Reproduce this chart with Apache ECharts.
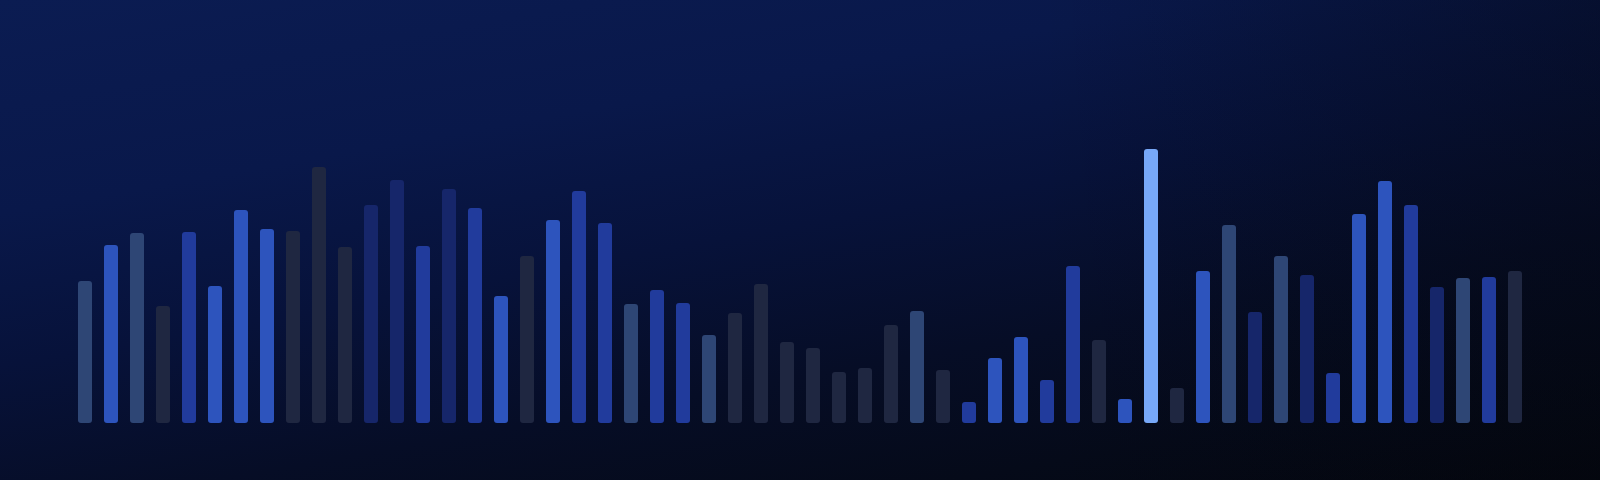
<!doctype html>
<html>
<head>
    <meta charset="UTF-8">
    <title>bars</title>
    <script src="https://cdn.jsdelivr.net/npm/echarts@6/dist/echarts.min.js"></script>
    <style>
        html, body {
            margin: 0;
            padding: 0;
            height: 100%;
        }
        #chart {
            width: 1600px;
            height: 480px;
            background:
                linear-gradient(to right, rgba(3, 5, 12, 0) 65%, rgba(3, 5, 12, 0.35) 100%),
                linear-gradient(170deg, #0b1c52 0%, #09184a 28%, #07123a 48%, #060d26 68%, #050a19 85%, #04070f 100%);
        }
    </style>
</head>
<body>
<div id="chart"></div>
<script type="text/javascript">
    // 56 根柱子, 数值为相对高度
    var categories = [];
    for (var i = 1; i <= 56; i++) { categories.push('B' + i); }

    var values = [
        142, 178, 190, 117, 191, 137, 213, 194, 192, 256,
        176, 218, 243, 177, 234, 215, 127, 167, 203, 232,
        200, 119, 133, 120, 88, 110, 139, 81, 75, 51,
        55, 98, 112, 53, 21, 65, 86, 43, 157, 83,
        24, 274, 35, 152, 198, 111, 167, 148, 50, 209,
        242, 218, 136, 145, 146, 152
    ];

    // 分组: 0 灰蓝, 1 亮蓝, 2 暗灰, 3 中蓝, 4 深蓝, 5 高亮
    var groups = [
        0, 1, 0, 2, 3, 1, 1, 1, 2, 2,
        2, 4, 4, 3, 4, 3, 1, 2, 1, 3,
        3, 0, 3, 3, 0, 2, 2, 2, 2, 2,
        2, 2, 0, 2, 3, 1, 1, 3, 3, 2,
        1, 5, 2, 1, 0, 4, 0, 4, 3, 1,
        1, 3, 4, 0, 3, 2
    ];

    var colorList = ['#2e4675', '#2d54bd', '#1f2741', '#213b9c', '#16266a', '#77a8f8'];

    var myChart = echarts.init(document.getElementById('chart'));

    var seriesData = values.map(function (v, i) {
        return {
            value: v,
            itemStyle: { color: colorList[groups[i]] }
        };
    });

    var option = {
        backgroundColor: 'transparent',
        animation: false,
        grid: {
            left: 72,
            right: 72,
            top: 123,
            bottom: 57
        },
        xAxis: {
            type: 'category',
            data: categories,
            boundaryGap: true,
            axisLine: { show: false },
            axisTick: { show: false },
            axisLabel: { show: false }
        },
        yAxis: {
            type: 'value',
            min: 0,
            max: 300,
            splitLine: { show: false },
            axisLine: { show: false },
            axisTick: { show: false },
            axisLabel: { show: false }
        },
        series: [{
            type: 'bar',
            barWidth: 14,
            itemStyle: {
                borderRadius: 3
            },
            data: seriesData
        }]
    };
    myChart.setOption(option);
</script>
</body>
</html>
